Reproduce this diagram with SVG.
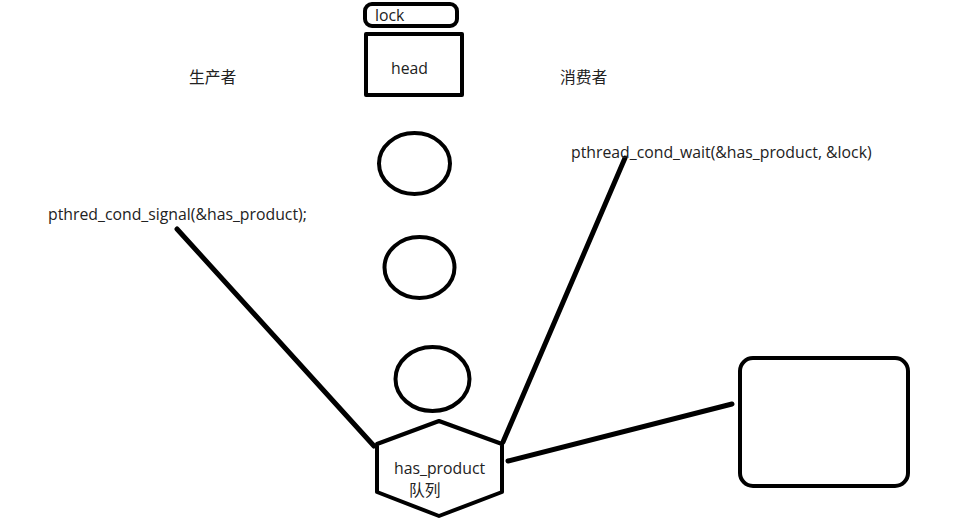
<svg xmlns="http://www.w3.org/2000/svg" width="970" height="527" viewBox="0 0 970 527">
<style>
.s{fill:none;stroke:#000;stroke-width:4;stroke-linejoin:round}
.c{stroke:#000;stroke-width:5;stroke-linecap:round;fill:none}
text{font-family:"Open Sans","Noto Sans","Noto Sans CJK SC",sans-serif;font-size:15.8px;fill:#222}
</style>
<rect width="970" height="527" fill="#fff"/>
<g id="connectors">
<line class="c" x1="177" y1="229" x2="374" y2="446"/>
<line class="c" x1="625" y1="158" x2="503" y2="442"/>
<line class="c" x1="508" y1="461" x2="732" y2="404"/>
</g>
<g id="lock"><rect class="s" x="365" y="4" width="92" height="22" rx="7"/><text x="375" y="21">lock</text></g>
<g id="head"><rect class="s" x="366" y="34" width="96" height="61"/><text x="391" y="74">head</text></g>
<g id="node1"><ellipse class="s" cx="414.5" cy="163.5" rx="35.5" ry="30.5"/></g>
<g id="node2"><ellipse class="s" cx="419.5" cy="267.5" rx="35" ry="30.5"/></g>
<g id="node3"><ellipse class="s" cx="432.5" cy="379" rx="37" ry="32"/></g>
<g id="queue"><polygon class="s" points="439,421 502,444 502,492 439,516 377,492 377,444"/><text x="394" y="474">has_product</text><text x="409" y="496">队列</text></g>
<g id="box"><rect class="s" x="740" y="358" width="168" height="128" rx="13"/></g>
<g id="labels">
<text x="189" y="83">生产者</text>
<text x="560" y="83">消费者</text>
<text x="571" y="158">pthread_cond_wait(&amp;has_product, &amp;lock)</text>
<text x="48" y="220">pthred_cond_signal(&amp;has_product);</text>
</g>
</svg>
